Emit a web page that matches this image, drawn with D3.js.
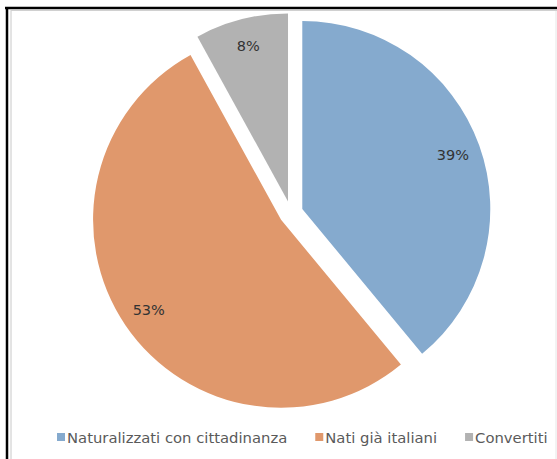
<!DOCTYPE html>
<html>
<head>
<meta charset="utf-8">
<script src="https://cdn.jsdelivr.net/npm/d3@7/dist/d3.min.js"></script>
<style>
  html, body { margin: 0; padding: 0; background: #fff; }
  svg { display: block; }
</style>
</head>
<body>
<svg id="chart" width="557" height="459"></svg>
<script>
// Share of each group (percent)
const categories = ["Naturalizzati con cittadinanza", "Nati già italiani", "Convertiti"];
const values = [39, 53, 8];
const labels = ["39%", "53%", "8%"];
const colors = ["#85AACE", "#E0986C", "#B2B2B2"];

const W = 557, H = 459;
const svg = d3.select("#chart");

// Frame lines
svg.append("rect").attr("x", 0).attr("y", 0).attr("width", W).attr("height", H).attr("fill", "#fff");
svg.append("line").attr("x1", 5).attr("x2", W).attr("y1", 8).attr("y2", 8)
  .attr("stroke", "#000").attr("stroke-width", 2.5);
svg.append("line").attr("x1", 7).attr("x2", 7).attr("y1", 7).attr("y2", H)
  .attr("stroke", "#000").attr("stroke-width", 2.5);
svg.append("line").attr("x1", 11).attr("x2", 11).attr("y1", 10).attr("y2", H)
  .attr("stroke", "#c8c8c8").attr("stroke-width", 1);
svg.append("line").attr("x1", 11).attr("x2", W).attr("y1", 10.5).attr("y2", 10.5)
  .attr("stroke", "#d0d0d0").attr("stroke-width", 1);
svg.append("line").attr("x1", 556).attr("x2", 556).attr("y1", 11).attr("y2", H)
  .attr("stroke", "#e6e6e6").attr("stroke-width", 1);

// Pie geometry
const cx = 291, cy = 213, R = 188, explode = 12, labelR = 160;

const pie = d3.pie().sort(null).value(d => d.value).startAngle(0).endAngle(2 * Math.PI);
const arc = d3.arc().innerRadius(0).outerRadius(R);
const data = pie(categories.map((c, i) => ({ name: c, value: values[i], label: labels[i], color: colors[i] })));

const g = svg.append("g").attr("transform", `translate(${cx},${cy})`);

const slice = g.selectAll("g.slice").data(data).join("g")
  .attr("class", "slice")
  .attr("transform", d => {
    const m = (d.startAngle + d.endAngle) / 2;
    return `translate(${explode * Math.sin(m)},${-explode * Math.cos(m)})`;
  });

slice.append("path")
  .attr("d", arc)
  .attr("fill", d => d.data.color);

slice.append("text")
  .attr("x", d => labelR * Math.sin((d.startAngle + d.endAngle) / 2))
  .attr("y", d => -labelR * Math.cos((d.startAngle + d.endAngle) / 2))
  .attr("text-anchor", "middle")
  .attr("dominant-baseline", "central")
  .attr("font-family", "'DejaVu Sans', sans-serif")
  .attr("font-size", 14.5)
  .attr("fill", "#333")
  .text(d => d.data.label);

// Legend
const legend = svg.append("g").attr("transform", "translate(57,437)");
let x = 0;
categories.forEach((c, i) => {
  const item = legend.append("g").attr("transform", `translate(${x},0)`);
  item.append("rect").attr("x", 0).attr("y", -4).attr("width", 8).attr("height", 8).attr("fill", colors[i]);
  const t = item.append("text")
    .attr("x", 10).attr("y", 0)
    .attr("dominant-baseline", "central")
    .attr("font-family", "'DejaVu Sans', sans-serif")
    .attr("font-size", 14.8)
    .attr("fill", "#5a5a5a")
    .text(c);
  x += 10 + t.node().getComputedTextLength() + 28;
});
</script>
</body>
</html>
